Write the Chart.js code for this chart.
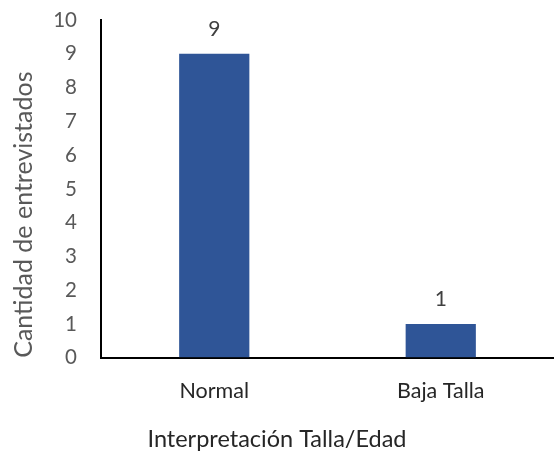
<!DOCTYPE html>
<html>
<head>
<meta charset="utf-8">
<script src="https://cdn.jsdelivr.net/npm/chart.js@4"></script>
<style>
  html, body { margin: 0; padding: 0; background: #fff; }
  #wrap { width: 554px; height: 460px; }
</style>
</head>
<body>
<div id="wrap"><canvas id="tallaChart" width="554" height="460"></canvas></div>
<script>
const categories = ['Normal', 'Baja Talla'];
const entrevistados = [9, 1];
const yTicks = [0, 1, 2, 3, 4, 5, 6, 7, 8, 9, 10];

const FONT = 'Lato, "Open Sans", sans-serif';

// numbers above the bars
const barLabels = {
    id: 'barLabels',
    afterDatasetsDraw(chart) {
        const ctx = chart.ctx;
        const meta = chart.getDatasetMeta(0);
        ctx.save();
        ctx.font = '21px ' + FONT;
        ctx.fillStyle = '#404040';
        ctx.textAlign = 'center';
        ctx.textBaseline = 'middle';
        meta.data.forEach((bar, i) => {
            ctx.fillText(String(entrevistados[i]), bar.x, bar.y - 25);
        });
        ctx.restore();
    }
};

const ctx = document.getElementById('tallaChart').getContext('2d');
new Chart(ctx, {
    type: 'bar',
    data: {
        labels: categories,
        datasets: [{
            data: entrevistados,
            backgroundColor: '#2F5597',
            borderWidth: 0,
            barPercentage: 0.31,
            categoryPercentage: 1
        }]
    },
    options: {
        responsive: false,
        animation: false,
        layout: { padding: { top: 20, right: 0, left: 0, bottom: 0 } },
        plugins: {
            legend: { display: false },
            tooltip: { enabled: false },
            title: {
                display: true,
                position: 'bottom',
                text: 'Interpretación Talla/Edad',
                color: '#262626',
                font: { family: FONT, size: 23.5, weight: 'normal' },
                padding: { top: 5, bottom: 6 }
            }
        },
        scales: {
            x: {
                grid: { display: false, drawTicks: false },
                border: { display: true, color: '#000', width: 2 },
                ticks: {
                    color: '#262626',
                    padding: 20,
                    font: { family: FONT, size: 21.5 }
                },
                afterFit(scale) { scale.height = 63; }
            },
            y: {
                min: 0,
                max: 10,
                // invisible tick marks give the gap between labels and axis
                grid: {
                    display: true,
                    drawOnChartArea: false,
                    color: 'transparent',
                    tickColor: 'transparent',
                    drawTicks: true,
                    tickLength: 24
                },
                border: { display: true, color: '#000', width: 2 },
                afterBuildTicks(scale) {
                    scale.ticks = yTicks.map(v => ({ value: v }));
                },
                ticks: {
                    color: '#595959',
                    padding: 0,
                    font: { family: FONT, size: 20.5 }
                },
                title: {
                    display: true,
                    text: 'Cantidad de entrevistados',
                    align: 'start',
                    color: '#595959',
                    font: { family: FONT, size: 25 },
                    padding: 9
                },
                afterFit(scale) { scale.width = 101; }
            }
        }
    },
    plugins: [barLabels]
});
</script>
</body>
</html>
